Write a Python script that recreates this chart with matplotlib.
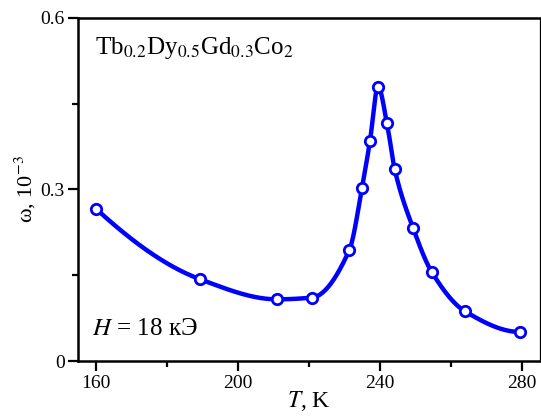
import numpy as np
import matplotlib
matplotlib.use("Agg")
import matplotlib.pyplot as plt
from matplotlib.ticker import MultipleLocator

plt.rcParams['font.family'] = ['Liberation Serif', 'DejaVu Serif']
plt.rcParams['mathtext.fontset'] = 'stix'

# Temperature (K) and magnetostriction omega (10^-3) at H = 18 kOe
temperature = [160.0, 189.3, 210.9, 220.8, 231.3, 234.9, 237.1, 239.4,
               241.9, 244.1, 249.3, 254.5, 263.9, 279.3]
omega = [0.266, 0.143, 0.108, 0.111, 0.194, 0.303, 0.384, 0.480,
         0.416, 0.335, 0.232, 0.156, 0.087, 0.051]

x_ticks = [160, 200, 240, 280]
y_ticks = [0, 0.3, 0.6]
y_tick_labels = ['0', '0.3', '0.6']


def pchip(x, y, xs):
    """Monotone piecewise cubic Hermite curve through (x, y)."""
    x = np.asarray(x, float)
    y = np.asarray(y, float)
    h = np.diff(x)
    d = np.diff(y) / h
    n = len(x)
    m = np.zeros(n)
    for k in range(1, n - 1):
        if d[k - 1] * d[k] <= 0:
            m[k] = 0.0
        else:
            w1 = 2 * h[k] + h[k - 1]
            w2 = h[k] + 2 * h[k - 1]
            m[k] = (w1 + w2) / (w1 / d[k - 1] + w2 / d[k])
    m[0] = ((2 * h[0] + h[1]) * d[0] - h[0] * d[1]) / (h[0] + h[1])
    if np.sign(m[0]) != np.sign(d[0]):
        m[0] = 0
    m[-1] = ((2 * h[-1] + h[-2]) * d[-1] - h[-1] * d[-2]) / (h[-1] + h[-2])
    if np.sign(m[-1]) != np.sign(d[-1]):
        m[-1] = 0
    idx = np.clip(np.searchsorted(x, xs) - 1, 0, n - 2)
    t = (xs - x[idx]) / h[idx]
    h00 = 2 * t**3 - 3 * t**2 + 1
    h10 = t**3 - 2 * t**2 + t
    h01 = -2 * t**3 + 3 * t**2
    h11 = t**3 - t**2
    return (h00 * y[idx] + h10 * h[idx] * m[idx]
            + h01 * y[idx + 1] + h11 * h[idx] * m[idx + 1])


fig = plt.figure(figsize=(5.41, 4.16), dpi=100)
ax = fig.add_axes([0.145, 0.132, 0.853, 0.825])

blue = '#0000ff'
xs = np.linspace(temperature[0], temperature[-1], 800)
ax.plot(xs, pchip(temperature, omega, xs), color=blue, lw=3.2,
        solid_capstyle='round', zorder=2)
ax.plot(temperature, omega, 'o', ms=7.5, mfc='white', mec=blue, mew=2.0,
        zorder=3)

ax.set_xlim(155, 285)
ax.set_ylim(0, 0.6)
ax.set_xticks(x_ticks)
ax.xaxis.set_minor_locator(MultipleLocator(20))
ax.set_yticks(y_ticks)
ax.set_yticklabels(y_tick_labels)
ax.yaxis.set_minor_locator(MultipleLocator(0.15))

ax.tick_params(which='major', direction='out', length=7, width=1.6,
               labelsize=14, top=False, right=False, pad=3)
ax.tick_params(which='minor', direction='out', length=4, width=1.6,
               top=False, right=False)

for side in ['left', 'bottom', 'top']:
    ax.spines[side].set_linewidth(1.8)
ax.spines['right'].set_linewidth(0.9)

ax.set_xlabel('$T$, K', fontsize=17, labelpad=-2)
ax.set_ylabel('ω, 10$^{−3}$', fontsize=16, labelpad=2)

ax.text(0.036, 0.895, 'Tb$_{0.2}$Dy$_{0.5}$Gd$_{0.3}$Co$_2$',
        transform=ax.transAxes, fontsize=18, va='baseline', ha='left')
ax.text(0.03, 0.076, '$H$ = 18 кЭ', transform=ax.transAxes,
        fontsize=18, va='baseline', ha='left')

fig.savefig('out.png', dpi=100)
